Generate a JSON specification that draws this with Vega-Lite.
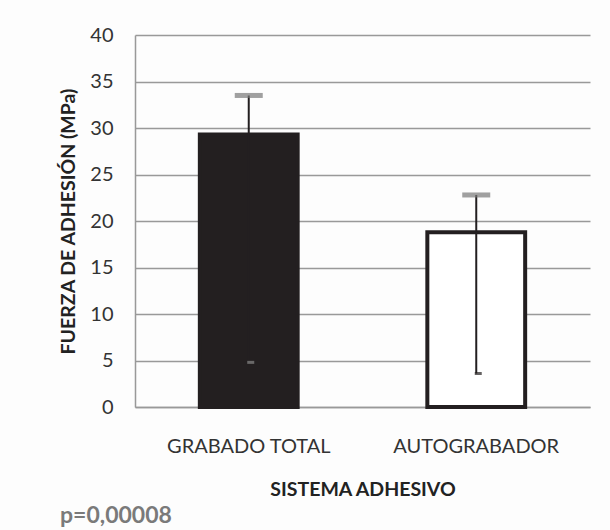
{
  "$schema": "https://vega.github.io/schema/vega-lite/v6.json",
  "width": 455,
  "height": 372,
  "autosize": {"type": "none"},
  "padding": {"left": 135, "top": 35, "right": 20, "bottom": 123},
  "background": "#fdfdfd",
  "config": {"view": {"stroke": null}, "font": "Lato"},
  "data": {
    "values": [
      {"sistema": "GRABADO TOTAL", "fuerza": 29.3, "low": 4.8, "high": 33.5},
      {"sistema": "AUTOGRABADOR", "fuerza": 18.8, "low": 3.6, "high": 22.8}
    ]
  },
  "title": {
    "text": "p=0,00008",
    "orient": "bottom",
    "anchor": "start",
    "frame": "group",
    "dx": -75,
    "offset": 6,
    "fontSize": 23,
    "font": "Lato",
    "fontWeight": "bold",
    "color": "#7a7a7a"
  },
  "encoding": {
    "x": {
      "field": "sistema",
      "type": "nominal",
      "sort": null,
      "scale": {"paddingInner": 0.57, "paddingOuter": 0.285},
      "axis": {
        "title": "SISTEMA ADHESIVO",
        "titleFontSize": 19.5,
        "titleFontWeight": "bold",
        "titleColor": "#222",
        "titlePadding": 24,
        "labelAngle": 0,
        "labelFontSize": 20,
        "labelColor": "#333",
        "labelPadding": 29,
        "ticks": false,
        "domainColor": "#999",
        "domainWidth": 1.5
      }
    }
  },
  "layer": [
    {
      "mark": {"type": "bar", "strokeWidth": 4},
      "encoding": {
        "y": {
          "field": "fuerza",
          "type": "quantitative",
          "scale": {"domain": [0, 40]},
          "axis": {
            "values": [0, 5, 10, 15, 20, 25, 30, 35, 40],
            "title": "FUERZA DE ADHESIÓN (MPa)",
            "titleFontSize": 19.5,
            "titleFontWeight": "bold",
            "titleColor": "#222",
            "titlePadding": 11,
            "labelFontSize": 20,
            "labelColor": "#333",
            "labelPadding": 22,
            "ticks": false,
            "gridColor": "#999",
            "gridWidth": 1.5,
            "domainColor": "#999",
            "domainWidth": 1.5
          }
        },
        "color": {
          "condition": {"test": "datum.sistema === 'GRABADO TOTAL'", "value": "#231f20"},
          "value": "#ffffff"
        },
        "stroke": {"value": "#231f20"}
      }
    },
    {
      "mark": {"type": "rule", "color": "#231f20", "strokeWidth": 2},
      "encoding": {
        "y": {"field": "low", "type": "quantitative"},
        "y2": {"field": "high"}
      }
    },
    {
      "mark": {"type": "tick", "color": "#777", "thickness": 5, "size": 28},
      "encoding": {"y": {"field": "high", "type": "quantitative"}}
    },
    {
      "mark": {"type": "tick", "thickness": 3, "size": 7, "xOffset": 2},
      "encoding": {
        "y": {"field": "low", "type": "quantitative"},
        "color": {
          "condition": {"test": "datum.sistema === 'GRABADO TOTAL'", "value": "#888"},
          "value": "#231f20"
        }
      }
    }
  ]
}
